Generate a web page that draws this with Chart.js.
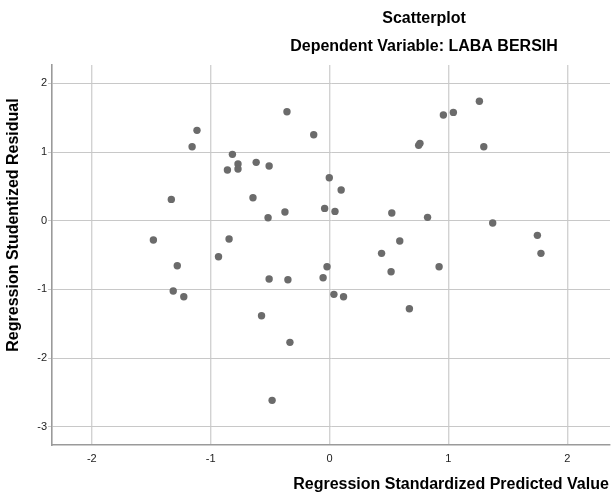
<!DOCTYPE html>
<html>
<head>
<meta charset="utf-8">
<script src="https://cdn.jsdelivr.net/npm/chart.js@4.4.1/dist/chart.umd.min.js"></script>
<style>
  html, body { margin: 0; padding: 0; background: #fff; }
  #wrap { width: 614px; height: 495px; position: relative; }
</style>
</head>
<body>
<div id="wrap"><canvas id="myChart"></canvas></div>
<script>
const predicted = [
  -1.115, -1.156, -0.817, -0.859, -0.770, -0.770, -1.331, -1.482, -0.845, -0.934,
  -0.358, -0.133, -0.617, -0.508, -0.002, 0.098, -0.644, -0.041, 0.046, -0.375,
  -0.517, 0.524, 0.591, 0.438, 1.261, 1.042, 0.958, 0.761, 0.750, 1.298,
  0.825, 1.373, 1.749, 1.779, -1.281, -1.315, -1.226, -0.021, 0.518, -0.054,
  -0.508, -0.350, 0.037, 0.118, 0.672, -0.572, -0.333, -0.483, 0.922
];
const residual = [
  1.316, 1.078, 0.967, 0.738, 0.826, 0.753, 0.311, -0.281, -0.267, -0.524,
  1.588, 1.253, 0.850, 0.797, 0.627, 0.447, 0.335, 0.180, 0.136, 0.127,
  0.044, 0.112, -0.296, -0.475, 1.739, 1.578, 1.539, 1.127, 1.098, 1.078,
  0.049, -0.034, -0.213, -0.475, -0.655, -1.024, -1.106, -0.670, -0.742, -0.830,
  -0.849, -0.859, -1.072, -1.106, -1.281, -1.383, -1.771, -2.616, -0.670
];
const xTicks = [-2, -1, 0, 1, 2];
const yTicks = [-3, -2, -1, 0, 1, 2];

const titleText = 'Scatterplot';
const subtitleText = 'Dependent Variable: LABA BERSIH';
const xTitle = 'Regression Standardized Predicted Value';
const yTitle = 'Regression Studentized Residual';

const font = '"Liberation Sans", Arial, sans-serif';

const points = predicted.map((x, i) => ({ x: x, y: residual[i] }));

// titles drawn by hand so they sit where SPSS puts them
const spssText = {
  id: 'spssText',
  afterDraw(chart) {
    const ctx = chart.ctx;
    ctx.save();
    ctx.fillStyle = '#000';
    ctx.font = 'bold 16px ' + font;
    ctx.textAlign = 'center';
    ctx.textBaseline = 'middle';
    ctx.fillText(titleText, 424, 19);
    ctx.fillText(subtitleText, 424, 47);
    ctx.fillText(xTitle, 451, 485);
    ctx.translate(14, 225);
    ctx.rotate(-Math.PI / 2);
    ctx.fillText(yTitle, 0, 0);
    ctx.restore();
  }
};

const canvas = document.getElementById('myChart');

const chart = new Chart(canvas, {
  type: 'scatter',
  data: {
    datasets: [{
      data: points,
      backgroundColor: '#6b6b6b',
      borderWidth: 0,
      pointRadius: 3.7
    }]
  },
  options: {
    responsive: true,
    maintainAspectRatio: false,
    animation: false,
    layout: { padding: { top: 65, right: 0, left: 0, bottom: 0 } },
    plugins: {
      legend: { display: false },
      tooltip: { enabled: false }
    },
    scales: {
      x: {
        type: 'linear',
        min: -2.335,
        max: 2.36,
        afterBuildTicks: s => { s.ticks = xTicks.map(v => ({ value: v })); },
        afterFit: s => { s.height = 50; },
        grid: { color: '#d2d2d2', lineWidth: 1.4, drawTicks: false },
        border: { color: '#9a9a9a', width: 1.6 },
        ticks: { color: '#222', font: { family: font, size: 11 }, padding: 7 }
      },
      y: {
        type: 'linear',
        min: -3.266,
        max: 2.268,
        afterBuildTicks: s => { s.ticks = yTicks.map(v => ({ value: v })); },
        afterFit: s => { s.width = 52; },
        grid: { color: '#c8c8c8', lineWidth: 1, tickLength: 4 },
        border: { color: '#9a9a9a', width: 1.6 },
        ticks: { color: '#222', font: { family: font, size: 11 }, padding: 1 }
      }
    }
  },
  plugins: [spssText]
});
</script>
</body>
</html>
